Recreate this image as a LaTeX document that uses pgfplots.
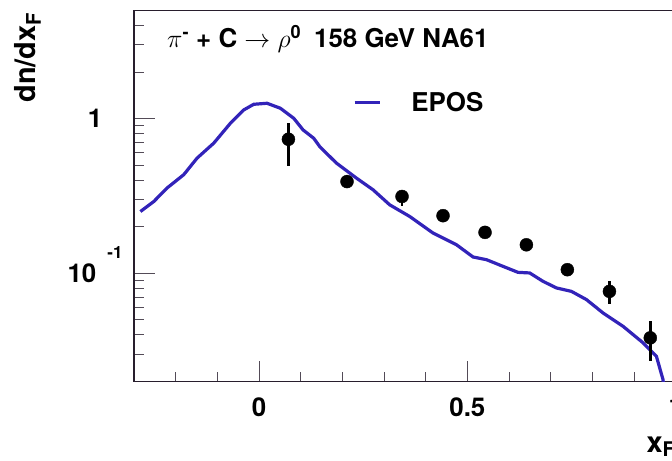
\RequirePackage{fix-cm}
\documentclass[border=0pt]{standalone}
\usepackage{fontspec}
\setmainfont{TeX Gyre Heros}
\usepackage{pgfplots}
\usepackage{pgfplotstable}
\pgfplotsset{compat=1.18}
\definecolor{epos}{RGB}{50,35,185}
\definecolor{axcol}{RGB}{40,30,45}
\newcommand{\tfont}{\bfseries\fontsize{26}{30}\selectfont}
\newcommand{\afont}{\bfseries\fontsize{29}{34}\selectfont}

\pgfplotstableread{
x        y
-0.2846  0.251
-0.2527  0.291
-0.2208  0.356
-0.1807  0.434
-0.1488  0.555
-0.1087  0.694
-0.0686  0.934
-0.0367  1.138
-0.0127  1.238
0.0192   1.257
0.0514   1.167
0.0833   1.006
0.1056   0.846
0.1313   0.747
0.1457   0.660
0.1857   0.516
0.2337   0.413
0.2736   0.347
0.3136   0.2774
0.3616   0.2332
0.4175   0.1823
0.4737   0.1532
0.5136   0.1276
0.5457   0.1226
0.5856   0.1110
0.6216   0.1015
0.6496   0.1006
0.6816   0.0888
0.7137   0.0805
0.7497   0.0765
0.7857   0.0677
0.8255   0.0555
0.8735   0.0455
0.9215   0.0356
0.9537   0.0291
0.9695   0.0206
0.9750   0.0150
}\epostable

\pgfplotstableread{
x       y       ep      em
0.0706  0.736   0.198   0.241
0.2112  0.392   0.025   0.025
0.3432  0.314   0.030   0.041
0.4416  0.236   0.015   0.015
0.5424  0.184   0.012   0.012
0.6417  0.153   0.010   0.010
0.7400  0.1056  0.008   0.008
0.8410  0.0765  0.0123  0.0128
0.9390  0.0383  0.0107  0.0112
}\datatable

\begin{document}
\begin{tikzpicture}
\useasboundingbox (0,0) rectangle (672bp,461bp);
\clip (0,0) rectangle (672bp,461bp);
\begin{axis}[
  at={(134bp,79.5bp)}, anchor=south west,
  scale only axis, width=541.7bp, height=371bp,
  xmin=-0.3, xmax=1.0, ymode=log, ymin=0.02, ymax=5,
  axis line style={line width=1.6bp, axcol},
  tick pos=left, tick align=inside,
  major tick length=21bp, minor tick length=10bp,
  every tick/.append style={line width=1bp, axcol!80},
  xtick={0,0.5,1}, xticklabels={0,0.5,1},
  minor xtick={-0.2,-0.1,0.1,0.2,0.3,0.4,0.6,0.7,0.8,0.9},
  ytick={0.1,1},
  yticklabels={{10\hspace{11bp}\smash{\raisebox{24bp}{\fontsize{17}{17}\selectfont -1}}},1},
  minor ytick={0.02,0.03,0.04,0.05,0.06,0.07,0.08,0.09,0.2,0.3,0.4,0.5,0.6,0.7,0.8,0.9,2,3,4,5},
  xticklabel style={font=\tfont, anchor=north, inner sep=0pt, yshift=-15.7bp},
  yticklabel style={font=\tfont, anchor=center, inner sep=0pt, xshift=-39bp},
  xlabel={x\textsubscript{F}},
  xlabel style={font=\afont, at={([yshift=-70.7bp]rel axis cs:1,0)}, anchor=base east, inner sep=0pt},
  ylabel={dn/dx\textsubscript{F}},
  ylabel style={font=\afont, at={([xshift=-98bp,yshift=-2bp]rel axis cs:0,1)}, anchor=base east, rotate=0, inner sep=0pt},
  legend style={draw=none, fill=none, at={(rel axis cs:0.4041,0.7514)}, anchor=west,
    inner sep=0pt, font=\tfont, nodes={inner sep=0pt},
    /tikz/every odd column/.append style={column sep=30bp}},
  legend image code/.code={\draw[#1] (0bp,0bp) -- (25bp,0bp);},
  clip=true,
]
\addplot[color=epos, line width=3.2bp, no marks] table[x=x, y=y] {\epostable};
\addlegendentry{EPOS}
\addplot[forget plot, only marks, mark=*, mark size=6.5bp, black,
  error bars/.cd, y dir=both, y explicit, error mark=none,
  error bar style={line width=2.5bp, black}]
  table[x=x, y=y, y error plus=ep, y error minus=em] {\datatable};
\node[anchor=base west, inner sep=0pt, font=\tfont] at (rel axis cs:0.0609,0.899)
  {$\pi$\textsuperscript{-} + C $\rightarrow$ $\rho$\textsuperscript{0}\hspace{0.5em}158 GeV NA61};
\end{axis}
\end{tikzpicture}
\end{document}
